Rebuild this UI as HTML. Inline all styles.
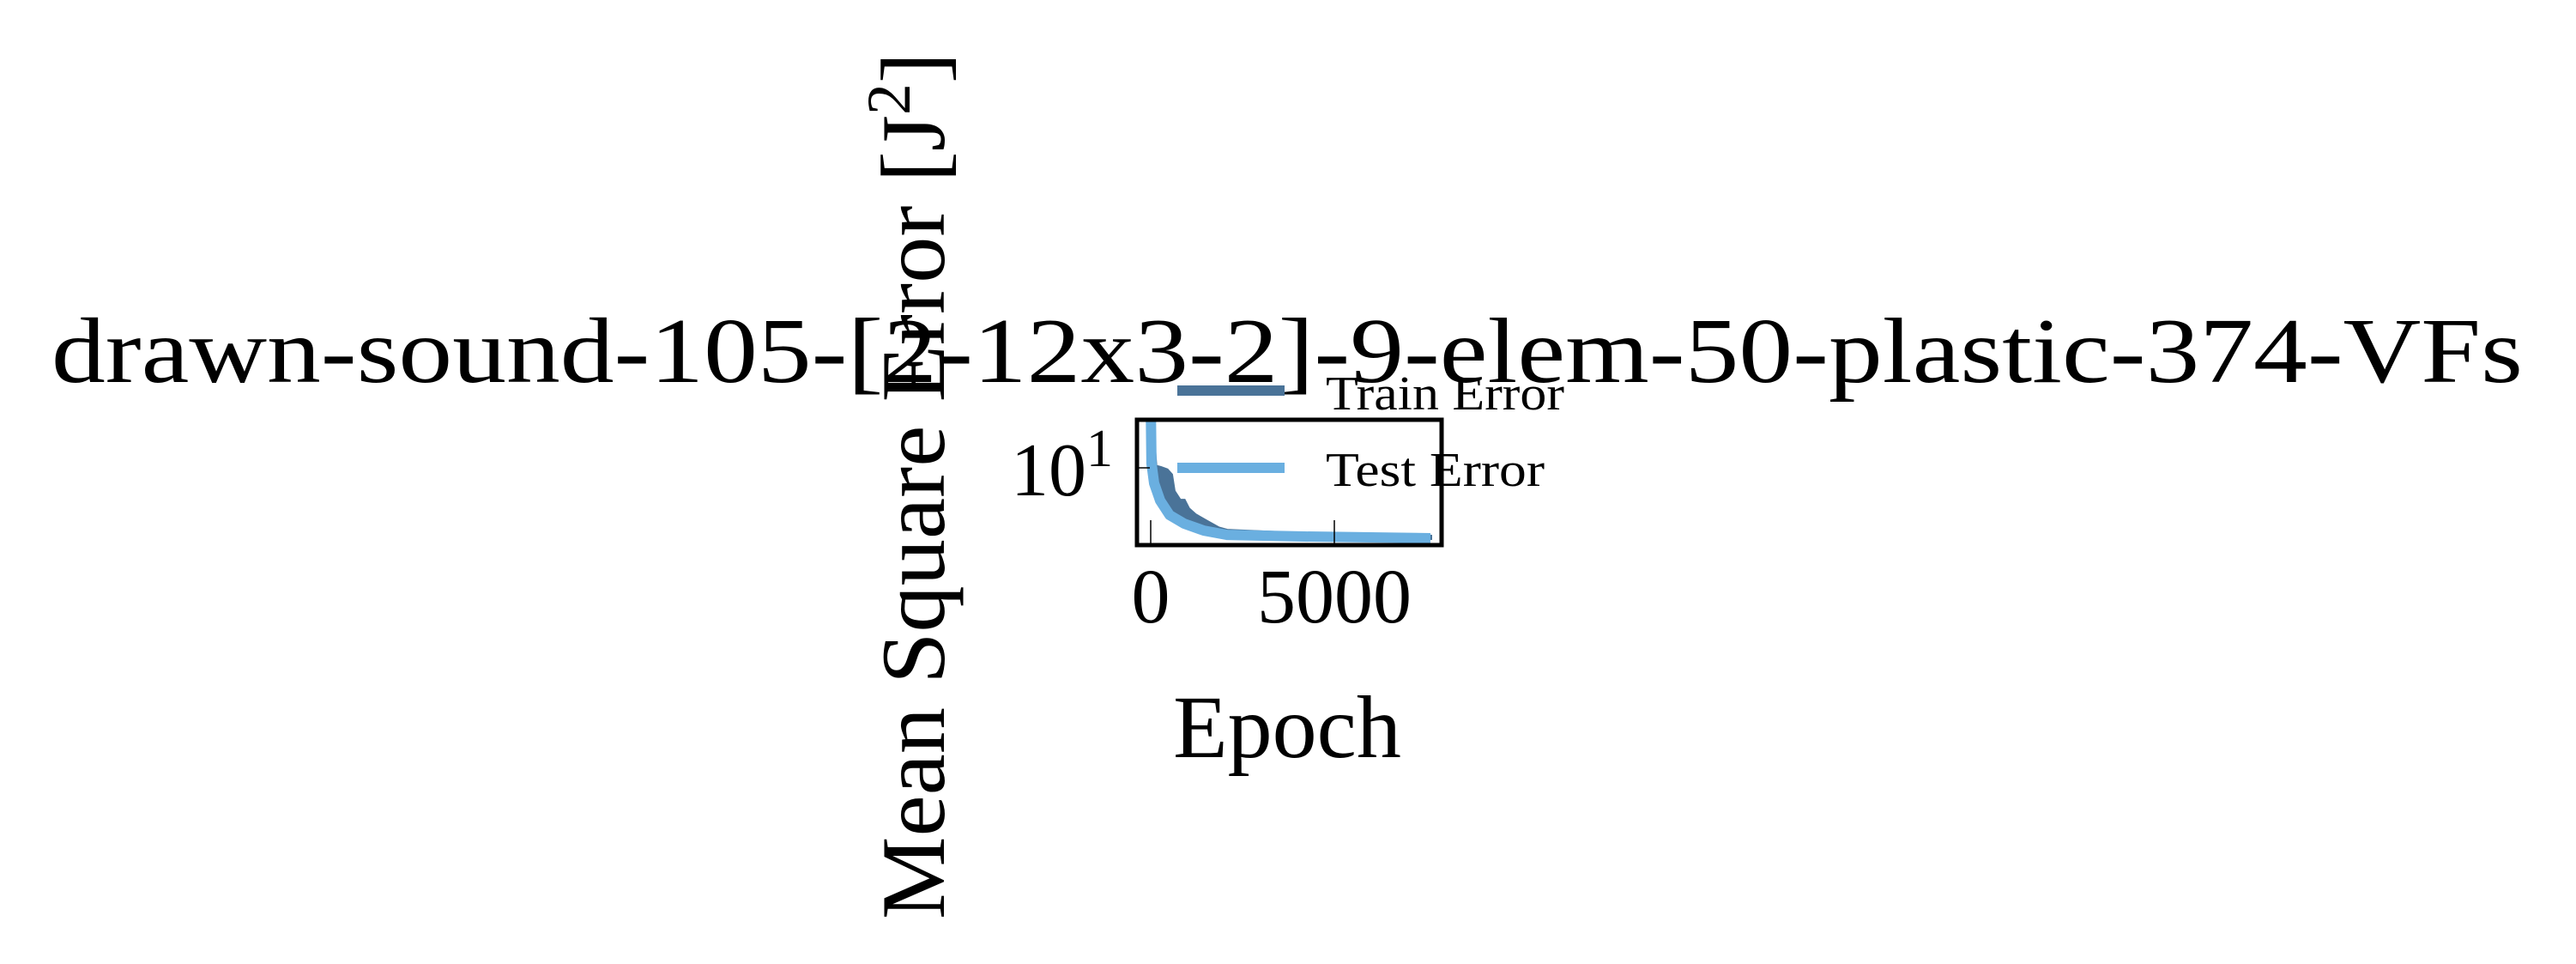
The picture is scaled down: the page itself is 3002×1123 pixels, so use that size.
<!DOCTYPE html>
<html><head><meta charset="utf-8"><style>
html,body{margin:0;padding:0;background:#fff;}
svg{display:block;font-family:"Liberation Serif",serif;}
</style></head><body>
<svg id="chart" width="3002" height="1123" viewBox="0 0 3002 1123">
  <defs><clipPath id="plotclip"><rect x="1325" y="489" width="355" height="146"/></clipPath></defs>
  <text x="1500" y="445" font-size="108" text-anchor="middle" textLength="2880" lengthAdjust="spacingAndGlyphs">drawn-sound-105-[2-12x3-2]-9-elem-50-plastic-374-VFs</text>
  <g id="series" clip-path="url(#plotclip)"></g>
  <g id="ticks"></g>
  <rect x="1325" y="489" width="355" height="146" fill="none" stroke="#000" stroke-width="5"/>
  <text x="1178" y="577" font-size="88">10<tspan font-size="62" dy="-34">1</tspan></text>
  <text transform="translate(1100,566) rotate(-90)" font-size="106" text-anchor="middle" textLength="1010" lengthAdjust="spacingAndGlyphs">Mean Square Error [J<tspan font-size="72" dy="-40">2</tspan><tspan dy="40">]</tspan></text>
  <text x="1500" y="882" font-size="104" text-anchor="middle">Epoch</text>
  <g>
    <line x1="1372" y1="455" x2="1497" y2="455" stroke="#4a7398" stroke-width="12"/>
    <text x="1545" y="477" font-size="56" textLength="278" lengthAdjust="spacingAndGlyphs">Train Error</text>
    <line x1="1372" y1="545" x2="1497" y2="545" stroke="#6aafe0" stroke-width="12"/>
    <text x="1545" y="566" font-size="56" textLength="255" lengthAdjust="spacingAndGlyphs">Test Error</text>
  </g>
</svg>
<script>
const trainEpochs = [0, 133, 280, 444, 561, 631, 794, 911, 1028, 1215, 1542, 1846, 2080, 4182, 7617];
const trainValues = [25, 10.2, 10.0, 9.7, 9.1, 7.3, 6.45, 6.45, 5.76, 5.31, 4.84, 4.45, 4.31, 4.12, 3.98];
const testEpochs = [0, 20, 93, 257, 514, 911, 1449, 2080, 4182, 7617];
const testValues = [25, 10.6, 8.13, 6.45, 5.31, 4.73, 4.31, 4.07, 3.98, 3.89];
const xTicks = [0, 5000];
const xTickLabels = ["0", "5000"];

const NS = "http://www.w3.org/2000/svg";
function xs(e){ return 1341 + e * 214 / 5000; }
function ys(v){ return 545 - 200 * Math.log10(v / 10); }

const series = document.getElementById('series');
const up = trainEpochs.map((e,i)=>xs(e).toFixed(1)+','+ys(trainValues[i]).toFixed(1));
const low = testEpochs.map((e,i)=>xs(e).toFixed(1)+','+ys(testValues[i]).toFixed(1)).reverse();
const area = document.createElementNS(NS,'polygon');
area.setAttribute('points', up.concat(low).join(' '));
area.setAttribute('fill', '#4a7398');
area.setAttribute('stroke', '#4a7398');
area.setAttribute('stroke-width', '4');


series.appendChild(area);

const test = document.createElementNS(NS,'polyline');
test.setAttribute('points', testEpochs.map((e,i)=>xs(e).toFixed(1)+','+ys(testValues[i]).toFixed(1)).join(' '));
test.setAttribute('fill', 'none');
test.setAttribute('stroke', '#6aafe0');
test.setAttribute('stroke-width', '12');
test.setAttribute('stroke-linejoin', 'round');


series.appendChild(test);

const ticks = document.getElementById('ticks');
xTicks.forEach((t,i)=>{
  const l = document.createElementNS(NS,'line');
  l.setAttribute('x1', xs(t)); l.setAttribute('x2', xs(t));
  l.setAttribute('y1', 635); l.setAttribute('y2', 606);
  l.setAttribute('stroke', '#000'); l.setAttribute('stroke-width', '1.5');
  
  
  ticks.appendChild(l);
  const tx = document.createElementNS(NS,'text');
  tx.setAttribute('x', xs(t)); tx.setAttribute('y', 725);
  tx.setAttribute('font-size', '90'); tx.setAttribute('text-anchor', 'middle');
  tx.textContent = xTickLabels[i];
  
  
  document.getElementById('chart').appendChild(tx);
});
const yt = document.createElementNS(NS,'line');
yt.setAttribute('x1', 1325); yt.setAttribute('x2', 1340);
yt.setAttribute('y1', ys(10)); yt.setAttribute('y2', ys(10));
yt.setAttribute('stroke', '#000'); yt.setAttribute('stroke-width', '1.5');


ticks.appendChild(yt);
</script>
</body></html>
